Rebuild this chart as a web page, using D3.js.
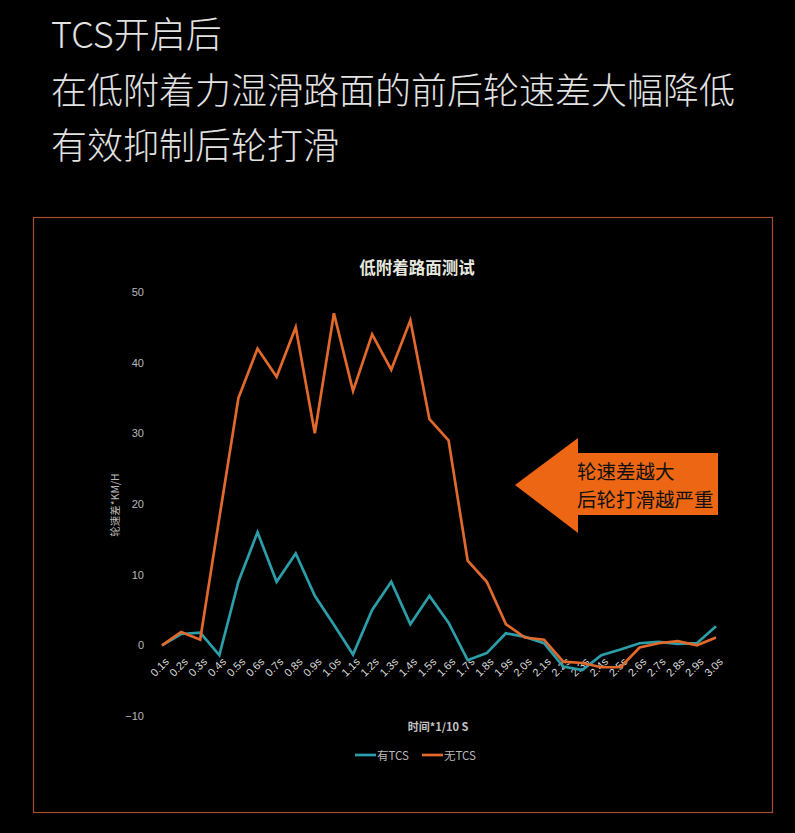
<!DOCTYPE html>
<html>
<head>
<meta charset="utf-8">
<script src="https://cdn.jsdelivr.net/npm/d3@7"></script>
<style>
  html, body { margin: 0; padding: 0; background: #000; }
  svg { display: block; }
</style>
</head>
<body>
<svg id="chart"></svg>
<script>
// tick labels along x
const times = ['0.1s','0.2s','0.3s','0.4s','0.5s','0.6s','0.7s','0.8s','0.9s','1.0s',
  '1.1s','1.2s','1.3s','1.4s','1.5s','1.6s','1.7s','1.8s','1.9s','2.0s',
  '2.1s','2.2s','2.3s','2.4s','2.5s','2.6s','2.7s','2.8s','2.9s','3.0s'];

// 有TCS
const withTCS = [0, 1.6, 1.8, -1.4, 9, 16, 9, 13, 7, 2.9,
  -1.3, 5, 9, 3, 7, 3.2, -2.1, -1.1, 1.7, 1.2,
  0.3, -3, -3.5, -1.4, -0.6, 0.3, 0.5, 0.2, 0.3, 2.7];

// 无TCS
const withoutTCS = [0, 1.9, 0.8, 18, 35, 42, 38, 45, 30, 47,
  36, 44, 39, 46, 32, 29, 12, 9, 3, 1.1,
  0.8, -2.3, -2.5, -3.1, -3.1, -0.3, 0.3, 0.6, 0, 1.1];

const yTicks = [-10, 0, 10, 20, 30, 40, 50];

const seriesNames = ['有TCS', '无TCS'];
const seriesColors = ['#2b9ea9', '#e2692c'];

const headLines = ['TCS开启后', '在低附着力湿滑路面的前后轮速差大幅降低', '有效抑制后轮打滑'];

const W = 795, H = 833;
const cjk = '"Noto Sans CJK SC", "Noto Sans", sans-serif';
const latin = '"Liberation Sans", Arial, sans-serif';

const svg = d3.select('#chart')
  .attr('width', W)
  .attr('height', H);

// heading text
svg.append('g')
  .selectAll('text')
  .data(headLines)
  .join('text')
  .attr('x', 51)
  .attr('y', (d, i) => 48 + i * 55.5)
  .attr('fill', '#e2e2e2')
  .attr('font-family', cjk)
  .attr('font-weight', 300)
  .attr('font-size', 36)
  .text(d => d);

// chart frame
svg.append('rect')
  .attr('x', 33.5)
  .attr('y', 217.5)
  .attr('width', 739)
  .attr('height', 595)
  .attr('fill', 'none')
  .attr('stroke', '#a54e36')
  .attr('stroke-width', 1.2);

// chart title
svg.append('text')
  .attr('x', 417)
  .attr('y', 274)
  .attr('text-anchor', 'middle')
  .attr('fill', '#e6e8df')
  .attr('font-family', cjk)
  .attr('font-weight', 'bold')
  .attr('font-size', 16.5)
  .text('低附着路面测试');

// scales
const x = d3.scalePoint()
  .domain(times)
  .range([162, 716]);

const y = d3.scaleLinear()
  .domain([-10, 50])
  .range([716, 292]);

// y axis
const yAxis = svg.append('g')
  .attr('transform', 'translate(144,0)')
  .call(d3.axisLeft(y).tickValues(yTicks).tickSize(0).tickPadding(0));
yAxis.select('.domain').remove();
yAxis.selectAll('text')
  .attr('fill', '#b8b8b8')
  .attr('font-family', latin)
  .attr('font-size', 11);

// x axis, sitting on the zero line
const xAxis = svg.append('g')
  .attr('transform', `translate(0,${y(0)})`)
  .call(d3.axisBottom(x).tickSize(0));
xAxis.select('.domain').remove();
xAxis.selectAll('text')
  .attr('fill', '#dcdcdc')
  .attr('font-family', latin)
  .attr('font-size', 11)
  .attr('text-anchor', 'end')
  .attr('dy', 0)
  .attr('transform', 'translate(5,15) rotate(-45)');

// axis titles
svg.append('text')
  .attr('transform', 'translate(119,505) rotate(-90)')
  .attr('text-anchor', 'middle')
  .attr('fill', '#b8b8b8')
  .attr('font-family', cjk)
  .attr('font-size', 10.5)
  .text('轮速差*KM/H');

svg.append('text')
  .attr('x', 438)
  .attr('y', 731)
  .attr('text-anchor', 'middle')
  .attr('fill', '#c4c4c4')
  .attr('font-family', cjk)
  .attr('font-weight', 'bold')
  .attr('font-size', 11)
  .text('时间*1/10 S');

// lines
const line = d3.line()
  .x((d, i) => x(times[i]))
  .y(d => y(d));

svg.append('g')
  .selectAll('path')
  .data([withTCS, withoutTCS])
  .join('path')
  .attr('d', line)
  .attr('fill', 'none')
  .attr('stroke', (d, i) => seriesColors[i])
  .attr('stroke-width', 2.7)
  .attr('stroke-linejoin', 'miter');

// legend
const legend = svg.append('g')
  .selectAll('g')
  .data(seriesNames)
  .join('g')
  .attr('transform', (d, i) => `translate(${355 + i * 67},755)`);
legend.append('line')
  .attr('x1', 0)
  .attr('x2', 21)
  .attr('stroke', (d, i) => seriesColors[i])
  .attr('stroke-width', 2.7);
legend.append('text')
  .attr('x', 22)
  .attr('y', 4.5)
  .attr('fill', '#b8b8b8')
  .attr('font-family', cjk)
  .attr('font-size', 11.5)
  .text(d => d);

// arrow callout
const arrow = svg.append('g');
arrow.append('path')
  .attr('d', 'M515,485 L578,438 L578,453 L718,453 L718,515 L578,515 L578,533 Z')
  .attr('fill', '#ec6614');
arrow.append('text')
  .attr('x', 577)
  .attr('y', 479)
  .attr('fill', '#111')
  .attr('font-family', cjk)
  .attr('font-size', 19.5)
  .text('轮速差越大');
arrow.append('text')
  .attr('x', 577)
  .attr('y', 507)
  .attr('fill', '#111')
  .attr('font-family', cjk)
  .attr('font-size', 19.5)
  .text('后轮打滑越严重');
</script>
</body>
</html>
